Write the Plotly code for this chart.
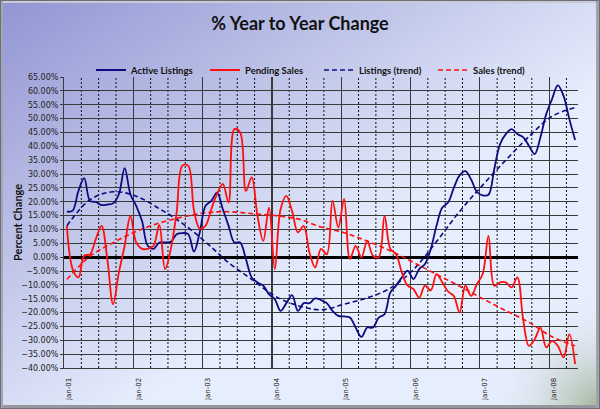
import base64, zlib, struct
import numpy as np
import plotly.graph_objects as go

# ---------------- data (percent, monthly Jan-01 .. May-08) ----------------
month_idx = list(range(89))
active_listings = [16.4, 16.8, 23.9, 28.5, 20.3, 19.9, 18.8, 19.0, 19.4, 22.7,
                   32.1, 22.7, 18.5, 13.1, 4.1, 3.0, 5.3, 5.3, 5.5, 8.3,
                   8.7, 8.3, 2.0, 8.9, 18.5, 20.3, 23.3, 17.3, 11.3, 5.3,
                   5.3, -0.7, -7.3, -9.1, -10.3, -13.4, -15.2, -19.4, -16.6, -13.7,
                   -19.4, -16.6, -16.6, -14.9, -15.5, -16.6, -19.4, -21.2, -21.4, -21.8,
                   -25.4, -28.8, -25.4, -25.4, -21.8, -20.6, -12.8, -10.3, -7.3, -4.9,
                   -7.9, -4.3, -2.5, 2.9, 11.3, 17.9, 19.7, 25.0, 29.5, 31.0,
                   28.0, 23.5, 22.3, 22.5, 31.8, 40.8, 44.4, 46.2, 44.4, 43.3,
                   40.2, 37.2, 43.3, 51.6, 57.0, 62.0, 58.2, 49.8, 42.3]
pending_sales = [11.3, -4.3, -7.3, 0.5, 1.0, 6.5, 11.3, -0.7, -17.0, -5.5,
                 4.1, 14.9, 5.3, 3.0, 3.0, 4.1, 11.6, -4.3, 3.0, 16.1,
                 33.0, 33.0, 17.0, 10.3, 11.3, 17.3, 22.7, 26.4, 19.7, 46.2,
                 45.0, 23.9, 28.8, 14.9, 5.9, 17.9, -4.3, 17.3, 22.1, 16.6,
                 8.9, 11.3, 1.7, -3.7, 3.0, 1.0, 20.3, 10.7, 21.0, -0.7,
                 4.1, -0.1, 5.9, 0.5, 0.0, 14.9, 3.0, 1.0, -5.5, -10.3,
                 -11.5, -14.6, -10.3, -12.0, -6.1, -9.1, -12.4, -14.0, -20.0, -10.3,
                 -14.0, -9.7, -6.1, 7.7, -10.3, -9.1, -9.1, -10.9, -7.3, -22.4,
                 -32.0, -29.6, -25.4, -32.6, -30.2, -32.0, -36.2, -27.8, -38.6]
trend_idx = [0, 4, 8, 12, 16, 20, 24, 28, 32, 36, 40, 44, 48, 52, 56, 60, 64, 68, 72, 76, 80, 84, 88]
listings_trend = [11.3, 20.7, 23.6, 22.0, 17.5, 12.2, 5.5, -2.0, -8.0, -14.0, -17.5, -19.0,
                  -17.0, -14.7, -11.2, -4.5, 5.6, 16.5, 26.0, 35.0, 43.5, 50.8, 54.0]
sales_trend = [-8.0, 0.3, 5.2, 9.3, 12.3, 14.5, 16.0, 16.4, 15.7, 15.0, 13.8, 10.9,
               8.8, 5.8, 2.3, -1.9, -6.2, -10.5, -15.0, -19.3, -23.5, -28.7, -32.0]
year_idx = [0, 12, 24, 36, 48, 60, 72, 84]
year_labels = ["Jan-01", "Jan-02", "Jan-03", "Jan-04", "Jan-05", "Jan-06", "Jan-07", "Jan-08"]

# ---------------- background gradient image ----------------
W, H = 600, 409
L, R, T, B = 64, 22, 77, 41
PW, PH = W - L - R, H - T - B

yy, xx = np.mgrid[0:H, 0:W].astype(float)
s = np.clip((xx / W + yy / H) / 1.2, 0, 1)[..., None]
c0 = np.array([146, 149, 211.0])
c1 = np.array([230, 237, 252.0])
img = c0 + (c1 - c0) * s
d = np.sqrt((W - xx) ** 2 + (H - yy) ** 2)
wgt = np.clip(1 - d / 110, 0, 1)[..., None] ** 2
img = img * (1 - wgt) + np.array([160, 178, 150.0]) * wgt
# frame
img[:1, :] = img[-1:, :] = (110, 110, 120)
img[:, :1] = img[:, -1:] = (110, 110, 120)
img[1:3, 1:-1] = (200, 202, 212)
img[-4:-1, 1:-1] = (150, 150, 158)
img[1:-1, 1:3] = (165, 166, 180)
img[1:-1, -4:-1] = (160, 162, 172)
img = np.clip(img, 0, 255).astype(np.uint8)


def png_uri(a):
    h, w, _ = a.shape
    raw = b"".join(b"\x00" + a[r].tobytes() for r in range(h))

    def chunk(tag, data):
        c = struct.pack(">I", len(data)) + tag + data
        return c + struct.pack(">I", zlib.crc32(tag + data) & 0xFFFFFFFF)

    png = (b"\x89PNG\r\n\x1a\n"
           + chunk(b"IHDR", struct.pack(">IIBBBBB", w, h, 8, 2, 0, 0, 0))
           + chunk(b"IDAT", zlib.compress(raw, 9))
           + chunk(b"IEND", b""))
    return "data:image/png;base64," + base64.b64encode(png).decode()


NAVY = "#0c0c80"
RED = "#ff1010"

fig = go.Figure()
fig.add_trace(go.Scatter(x=trend_idx, y=listings_trend, name="Listings (trend)", mode="lines",
                         line=dict(color=NAVY, width=1.6, shape="spline", dash="5px,3px"), legendrank=3))
fig.add_trace(go.Scatter(x=trend_idx, y=sales_trend, name="Sales (trend)", mode="lines",
                         line=dict(color=RED, width=1.6, shape="spline", dash="5px,3px"), legendrank=4))
fig.add_trace(go.Scatter(x=month_idx, y=active_listings, name="Active Listings", mode="lines",
                         line=dict(color=NAVY, width=1.8, shape="spline", smoothing=1.0), legendrank=1))
fig.add_trace(go.Scatter(x=month_idx, y=pending_sales, name="Pending Sales", mode="lines",
                         line=dict(color=RED, width=1.8, shape="spline", smoothing=1.0), legendrank=2))

# dotted quarter gridlines (between-category boundaries)
quarter_bounds = [i - 0.5 for i in month_idx if i % 3 == 0 and i % 12 != 0]
shapes = [dict(type="line", xref="x", yref="paper", x0=q, x1=q, y0=0, y1=1, layer="below",
               line=dict(color="#111111", width=1, dash="2px,2px")) for q in quarter_bounds]

fig.update_layout(
    width=W, height=H,
    margin=dict(l=L, r=R, t=T, b=B, autoexpand=False),
    paper_bgcolor="#c8d0f0",
    plot_bgcolor="rgba(0,0,0,0)",
    images=[dict(source=png_uri(img), xref="paper", yref="paper",
                 x=-L / PW, y=1 + T / PH, sizex=W / PW, sizey=H / PH,
                 xanchor="left", yanchor="top", sizing="stretch", layer="below")],
    shapes=shapes,
    title=dict(text="% Year to Year Change", x=0.5, xanchor="center", y=1 - 24 / H, yanchor="middle",
               font=dict(family="Lato", size=18, color="#111111", weight="bold")),
    legend=dict(orientation="h", x=(91 - L) / PW, xanchor="left", y=1 + (T - 70) / PH, yanchor="middle",
                font=dict(family="Lato", size=9.5, color="#111111", weight="bold"),
                bgcolor="rgba(0,0,0,0)", entrywidth=69, entrywidthmode="pixels",
                itemwidth=30, tracegroupgap=0),
    showlegend=True,
    hovermode=False,
    annotations=[dict(text="Percent Change", textangle=-90, xref="paper", yref="paper",
                      x=(17.5 - L) / PW, y=0.5, xanchor="center", yanchor="middle", showarrow=False,
                      font=dict(family="Lato", size=11, color="#111111", weight="bold"))],
)

fig.update_xaxes(
    range=[-0.5, 88.5],
    tickmode="array",
    tickvals=[i - 0.5 for i in year_idx],
    ticktext=year_labels,
    ticklabelshift=5,
    tickangle=-90,
    tickfont=dict(family="DejaVu Sans", size=7, color="#222222"),
    ticks="",
    ticklabelstandoff=6,
    showgrid=True, gridcolor="#3a3a3a", gridwidth=1.2,
    showline=True, linecolor="#3a3a3a", linewidth=1,
    zeroline=False,
)
fig.update_yaxes(
    range=[-40, 65],
    tick0=0, dtick=5,
    tickformat=".2f", ticksuffix="%",
    tickfont=dict(family="DejaVu Sans", size=8, color="#222222"),
    ticks="outside", ticklen=3, tickcolor="#3a3a3a",
    showgrid=True, gridcolor="#3a3a3a", gridwidth=1,
    showline=True, linecolor="#3a3a3a", linewidth=1,
    zeroline=True, zerolinecolor="#000000", zerolinewidth=3,
)

fig.write_html("out.html", config={"displayModeBar": False, "staticPlot": True},
               post_script="document.body.style.margin='0';document.documentElement.style.overflow='hidden';")
